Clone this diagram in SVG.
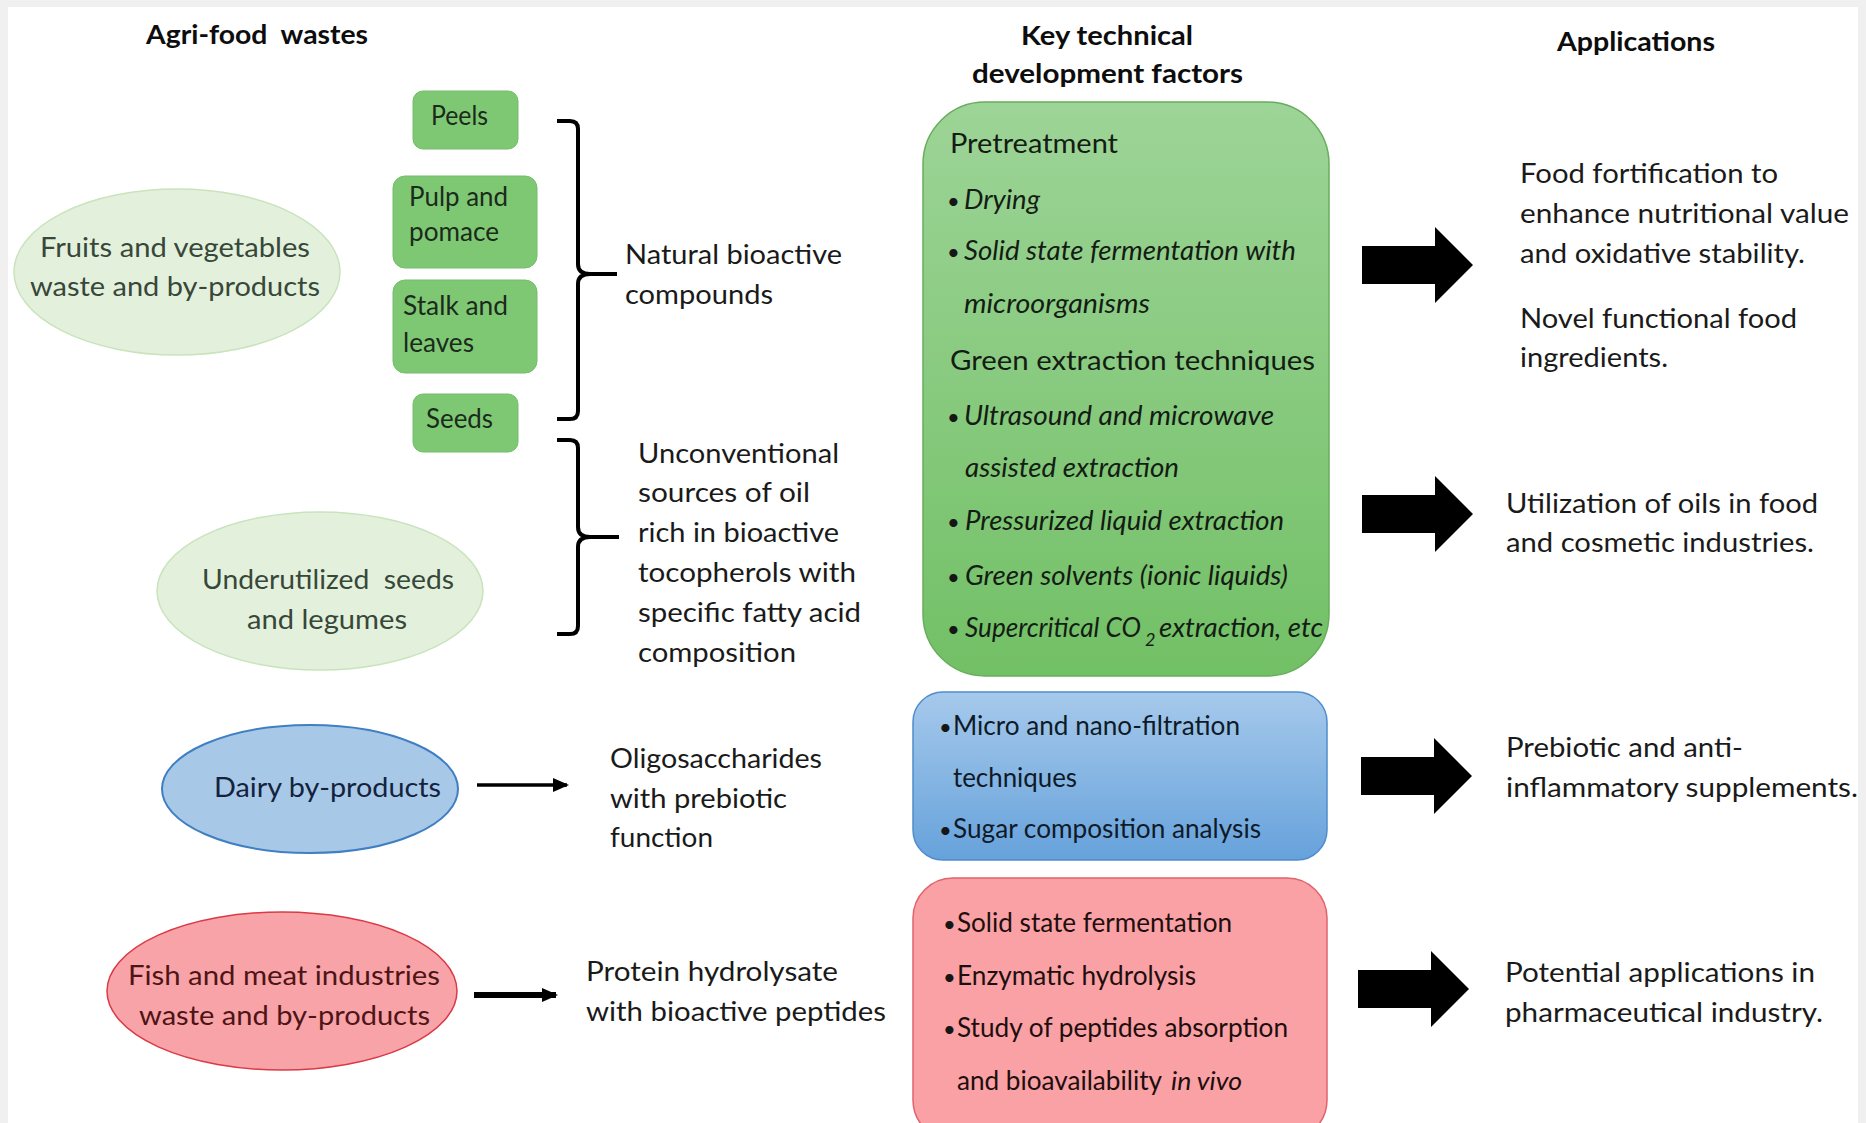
<svg xmlns="http://www.w3.org/2000/svg" width="1866" height="1123" viewBox="0 0 1866 1123">
  <defs>
    <style>
      .t { font-family: Lato, "Open Sans", "Liberation Sans", sans-serif; fill: #161616; white-space: pre; }
      .hd { font-weight: bold; font-size: 27px; fill: #0d0d0d; }
      .box { font-size: 26px; fill: #1c2a1c; }
      .ell { font-size: 27px; }
      .mid { font-size: 27px; fill: #1a1a1a; }
      .it { font-style: italic; font-size: 27px; fill: #141c14; }
      .pl { font-size: 27px; fill: #141c14; }
      .bl { font-size: 26px; fill: #0f1a28; }
      .rd { font-size: 26px; fill: #1e0e0e; }
      .app { font-size: 27px; fill: #1a1a1a; }
      .dot { font-size: 22px; }
      .sbox { fill: #7ec874; stroke: #74bd6a; stroke-width: 1; }
      .brace { fill: none; stroke: #000; stroke-width: 4; stroke-linejoin: round; }
      .thin { stroke: #000; fill: none; }
    </style>
    <linearGradient id="gGreen" x1="0" y1="0" x2="0" y2="1">
      <stop offset="0" stop-color="#9dd497"/>
      <stop offset="1" stop-color="#72c066"/>
    </linearGradient>
    <linearGradient id="gBlue" x1="0" y1="0" x2="0" y2="1">
      <stop offset="0" stop-color="#a6c9eb"/>
      <stop offset="1" stop-color="#66a2db"/>
    </linearGradient>
    <!-- wide block arrow, origin at the middle of its tail -->
    <path id="blockArrow" d="M0,-19 H73 V-38 L111,0 L73,38 V19 H0 Z" fill="#000"/>
    <marker id="headThin" markerUnits="userSpaceOnUse" markerWidth="16" markerHeight="14" refX="14" refY="7" orient="auto">
      <path d="M0,0 L16,7 L0,14 Z" fill="#000"/>
    </marker>
  </defs>

  <!-- page -->
  <rect x="0" y="0" width="1866" height="1123" fill="#f0f0f0"/>
  <rect x="8" y="7" width="1850" height="1116" fill="#ffffff"/>

  <!-- column headings -->
  <g id="headings">
    <text class="t hd" x="146" y="44" textLength="222" lengthAdjust="spacingAndGlyphs">Agri-food  wastes</text>
    <text class="t hd" x="1021" y="45" textLength="172" lengthAdjust="spacingAndGlyphs">Key technical</text>
    <text class="t hd" x="972" y="83" textLength="271" lengthAdjust="spacingAndGlyphs">development factors</text>
    <text class="t hd" x="1557" y="51" textLength="158" lengthAdjust="spacingAndGlyphs">Applications</text>
  </g>

  <!-- sources -->
  <g id="fruits-vegetables">
    <ellipse cx="177" cy="272" rx="163" ry="83" fill="#e3f1dc" stroke="#c9e3bd" stroke-width="1.5"/>
    <text class="t ell" x="40" y="257" style="fill:#37473a" textLength="270" lengthAdjust="spacingAndGlyphs">Fruits and vegetables</text>
    <text class="t ell" x="30" y="296" style="fill:#37473a" textLength="290" lengthAdjust="spacingAndGlyphs">waste and by-products</text>
  </g>

  <g id="peels">
    <rect class="sbox" x="413" y="91" width="105" height="58" rx="10"/>
    <text class="t box" x="431" y="125" textLength="57" lengthAdjust="spacingAndGlyphs">Peels</text>
  </g>
  <g id="pulp-pomace">
    <rect class="sbox" x="393" y="176" width="144" height="92" rx="12"/>
    <text class="t box" x="409" y="206" textLength="99" lengthAdjust="spacingAndGlyphs">Pulp and</text>
    <text class="t box" x="409" y="241" textLength="90" lengthAdjust="spacingAndGlyphs">pomace</text>
  </g>
  <g id="stalk-leaves">
    <rect class="sbox" x="393" y="280" width="144" height="93" rx="12"/>
    <text class="t box" x="403" y="315" textLength="105" lengthAdjust="spacingAndGlyphs">Stalk and</text>
    <text class="t box" x="403" y="352" textLength="71" lengthAdjust="spacingAndGlyphs">leaves</text>
  </g>
  <g id="seeds">
    <rect class="sbox" x="413" y="394" width="105" height="58" rx="10"/>
    <text class="t box" x="426" y="428" textLength="67" lengthAdjust="spacingAndGlyphs">Seeds</text>
  </g>

  <g id="underutilized-seeds">
    <ellipse cx="320" cy="591" rx="163" ry="79" fill="#e3f1dc" stroke="#c9e3bd" stroke-width="1.5"/>
    <text class="t ell" x="202" y="589" style="fill:#37473a" textLength="252" lengthAdjust="spacingAndGlyphs">Underutilized  seeds</text>
    <text class="t ell" x="247" y="629" style="fill:#37473a" textLength="160" lengthAdjust="spacingAndGlyphs">and legumes</text>
  </g>

  <g id="dairy">
    <ellipse cx="310" cy="789" rx="148" ry="64" fill="#a8c8e8" stroke="#3f7fc2" stroke-width="2"/>
    <text class="t ell" x="214" y="797" style="fill:#14233d" textLength="227" lengthAdjust="spacingAndGlyphs">Dairy by-products</text>
  </g>

  <g id="fish-meat">
    <ellipse cx="282" cy="991" rx="175" ry="79" fill="#f8a3a7" stroke="#d93a46" stroke-width="1.5"/>
    <text class="t ell" x="128" y="985" style="fill:#4e1416" textLength="312" lengthAdjust="spacingAndGlyphs">Fish and meat industries</text>
    <text class="t ell" x="139" y="1025" style="fill:#4e1416" textLength="291" lengthAdjust="spacingAndGlyphs">waste and by-products</text>
  </g>

  <!-- products -->
  <g id="natural-bioactive">
    <text class="t mid" x="625" y="264" textLength="217" lengthAdjust="spacingAndGlyphs">Natural bioactive</text>
    <text class="t mid" x="625" y="304" textLength="148" lengthAdjust="spacingAndGlyphs">compounds</text>
  </g>
  <g id="unconventional-oil">
    <text class="t mid" x="638" y="463" textLength="201" lengthAdjust="spacingAndGlyphs">Unconventional</text>
    <text class="t mid" x="638" y="502" textLength="172" lengthAdjust="spacingAndGlyphs">sources of oil</text>
    <text class="t mid" x="638" y="542" textLength="201" lengthAdjust="spacingAndGlyphs">rich in bioactive</text>
    <text class="t mid" x="638" y="582" textLength="218" lengthAdjust="spacingAndGlyphs">tocopherols with</text>
    <text class="t mid" x="638" y="622" textLength="223" lengthAdjust="spacingAndGlyphs">specific fatty acid</text>
    <text class="t mid" x="638" y="662" textLength="158" lengthAdjust="spacingAndGlyphs">composition</text>
  </g>
  <g id="oligosaccharides">
    <text class="t mid" x="610" y="768" textLength="212" lengthAdjust="spacingAndGlyphs">Oligosaccharides</text>
    <text class="t mid" x="610" y="808" textLength="177" lengthAdjust="spacingAndGlyphs">with prebiotic</text>
    <text class="t mid" x="610" y="847" textLength="103" lengthAdjust="spacingAndGlyphs">function</text>
  </g>
  <g id="protein-hydrolysate">
    <text class="t mid" x="586" y="981" textLength="252" lengthAdjust="spacingAndGlyphs">Protein hydrolysate</text>
    <text class="t mid" x="586" y="1021" textLength="300" lengthAdjust="spacingAndGlyphs">with bioactive peptides</text>
  </g>

  <!-- technical factors -->
  <g id="green-techniques">
    <rect x="923" y="102" width="406" height="574" rx="62" fill="url(#gGreen)" stroke="#68ad5c" stroke-width="1.5"/>
    <text class="t pl" x="950" y="153" textLength="168" lengthAdjust="spacingAndGlyphs">Pretreatment</text>
    <text class="t dot" x="947" y="209">•</text>
    <text class="t it" x="964" y="209" textLength="76" lengthAdjust="spacingAndGlyphs">Drying</text>
    <text class="t dot" x="947" y="260">•</text>
    <text class="t it" x="964" y="260" textLength="332" lengthAdjust="spacingAndGlyphs">Solid state fermentation with</text>
    <text class="t it" x="964" y="313" textLength="186" lengthAdjust="spacingAndGlyphs">microorganisms</text>
    <text class="t pl" x="950" y="370" textLength="365" lengthAdjust="spacingAndGlyphs">Green extraction techniques</text>
    <text class="t dot" x="947" y="425">•</text>
    <text class="t it" x="964" y="425" textLength="310" lengthAdjust="spacingAndGlyphs">Ultrasound and microwave</text>
    <text class="t it" x="965" y="477" textLength="214" lengthAdjust="spacingAndGlyphs">assisted extraction</text>
    <text class="t dot" x="947" y="530">•</text>
    <text class="t it" x="965" y="530" textLength="319" lengthAdjust="spacingAndGlyphs">Pressurized liquid extraction</text>
    <text class="t dot" x="947" y="585">•</text>
    <text class="t it" x="965" y="585" textLength="323" lengthAdjust="spacingAndGlyphs">Green solvents (ionic liquids)</text>
    <text class="t dot" x="947" y="637">•</text>
    <text class="t it" x="965" y="637"><tspan x="965" textLength="176" lengthAdjust="spacingAndGlyphs">Supercritical CO</tspan><tspan x="1145" dy="9" style="font-size:18px">2</tspan><tspan x="1159" dy="-9" textLength="164" lengthAdjust="spacingAndGlyphs">extraction, etc</tspan></text>
  </g>

  <g id="blue-techniques">
    <rect x="913" y="692" width="414" height="168" rx="30" fill="url(#gBlue)" stroke="#4f8dcc" stroke-width="1.5"/>
    <text class="t dot" x="939" y="735">•</text>
    <text class="t bl" x="953" y="735" textLength="287" lengthAdjust="spacingAndGlyphs">Micro and nano-filtration</text>
    <text class="t bl" x="953" y="787" textLength="124" lengthAdjust="spacingAndGlyphs">techniques</text>
    <text class="t dot" x="939" y="838">•</text>
    <text class="t bl" x="953" y="838" textLength="308" lengthAdjust="spacingAndGlyphs">Sugar composition analysis</text>
  </g>

  <g id="red-techniques">
    <rect x="913" y="878" width="414" height="262" rx="40" fill="#f9a1a5" stroke="#e0646c" stroke-width="1.5"/>
    <text class="t dot" x="943" y="932">•</text>
    <text class="t rd" x="957" y="932" textLength="275" lengthAdjust="spacingAndGlyphs">Solid state fermentation</text>
    <text class="t dot" x="943" y="985">•</text>
    <text class="t rd" x="957" y="985" textLength="239" lengthAdjust="spacingAndGlyphs">Enzymatic hydrolysis</text>
    <text class="t dot" x="943" y="1037">•</text>
    <text class="t rd" x="957" y="1037" textLength="331" lengthAdjust="spacingAndGlyphs">Study of peptides absorption</text>
    <text class="t rd" x="957" y="1090" textLength="205" lengthAdjust="spacingAndGlyphs">and bioavailability</text>
    <text class="t rd" x="1171" y="1090" style="font-style:italic" textLength="71" lengthAdjust="spacingAndGlyphs">in vivo</text>
  </g>

  <!-- applications -->
  <g id="app-food">
    <text class="t app" x="1520" y="183" textLength="258" lengthAdjust="spacingAndGlyphs">Food fortification to</text>
    <text class="t app" x="1520" y="223" textLength="329" lengthAdjust="spacingAndGlyphs">enhance nutritional value</text>
    <text class="t app" x="1520" y="263" textLength="285" lengthAdjust="spacingAndGlyphs">and oxidative stability.</text>
    <text class="t app" x="1520" y="328" textLength="277" lengthAdjust="spacingAndGlyphs">Novel functional food</text>
    <text class="t app" x="1520" y="367" textLength="148" lengthAdjust="spacingAndGlyphs">ingredients.</text>
  </g>
  <g id="app-oils">
    <text class="t app" x="1506" y="513" textLength="312" lengthAdjust="spacingAndGlyphs">Utilization of oils in food</text>
    <text class="t app" x="1506" y="552" textLength="308" lengthAdjust="spacingAndGlyphs">and cosmetic industries.</text>
  </g>
  <g id="app-supplements">
    <text class="t app" x="1506" y="757" textLength="237" lengthAdjust="spacingAndGlyphs">Prebiotic and anti-</text>
    <text class="t app" x="1506" y="797" textLength="352" lengthAdjust="spacingAndGlyphs">inflammatory supplements.</text>
  </g>
  <g id="app-pharma">
    <text class="t app" x="1505" y="982" textLength="310" lengthAdjust="spacingAndGlyphs">Potential applications in</text>
    <text class="t app" x="1505" y="1022" textLength="318" lengthAdjust="spacingAndGlyphs">pharmaceutical industry.</text>
  </g>

  <!-- connectors: braces, thin arrows, block arrows -->
  <g id="connectors">
    <path class="brace" d="M557,121 H570 Q578,121 578,129 V264 Q578,274 590,274 H617 M590,274 Q578,274 578,284 V411 Q578,419 570,419 H557"/>
    <path class="brace" d="M557,440 H570 Q578,440 578,448 V527 Q578,537 590,537 H619 M590,537 Q578,537 578,547 V626 Q578,634 570,634 H557"/>
    <line class="thin" x1="477" y1="785" x2="567" y2="785" stroke-width="3.5" marker-end="url(#headThin)"/>
    <line class="thin" x1="474" y1="995" x2="556" y2="995" stroke-width="6" marker-end="url(#headThin)"/>
    <use href="#blockArrow" x="1362" y="265"/>
    <use href="#blockArrow" x="1362" y="514"/>
    <use href="#blockArrow" x="1361" y="776"/>
    <use href="#blockArrow" x="1358" y="989"/>
  </g>
</svg>
